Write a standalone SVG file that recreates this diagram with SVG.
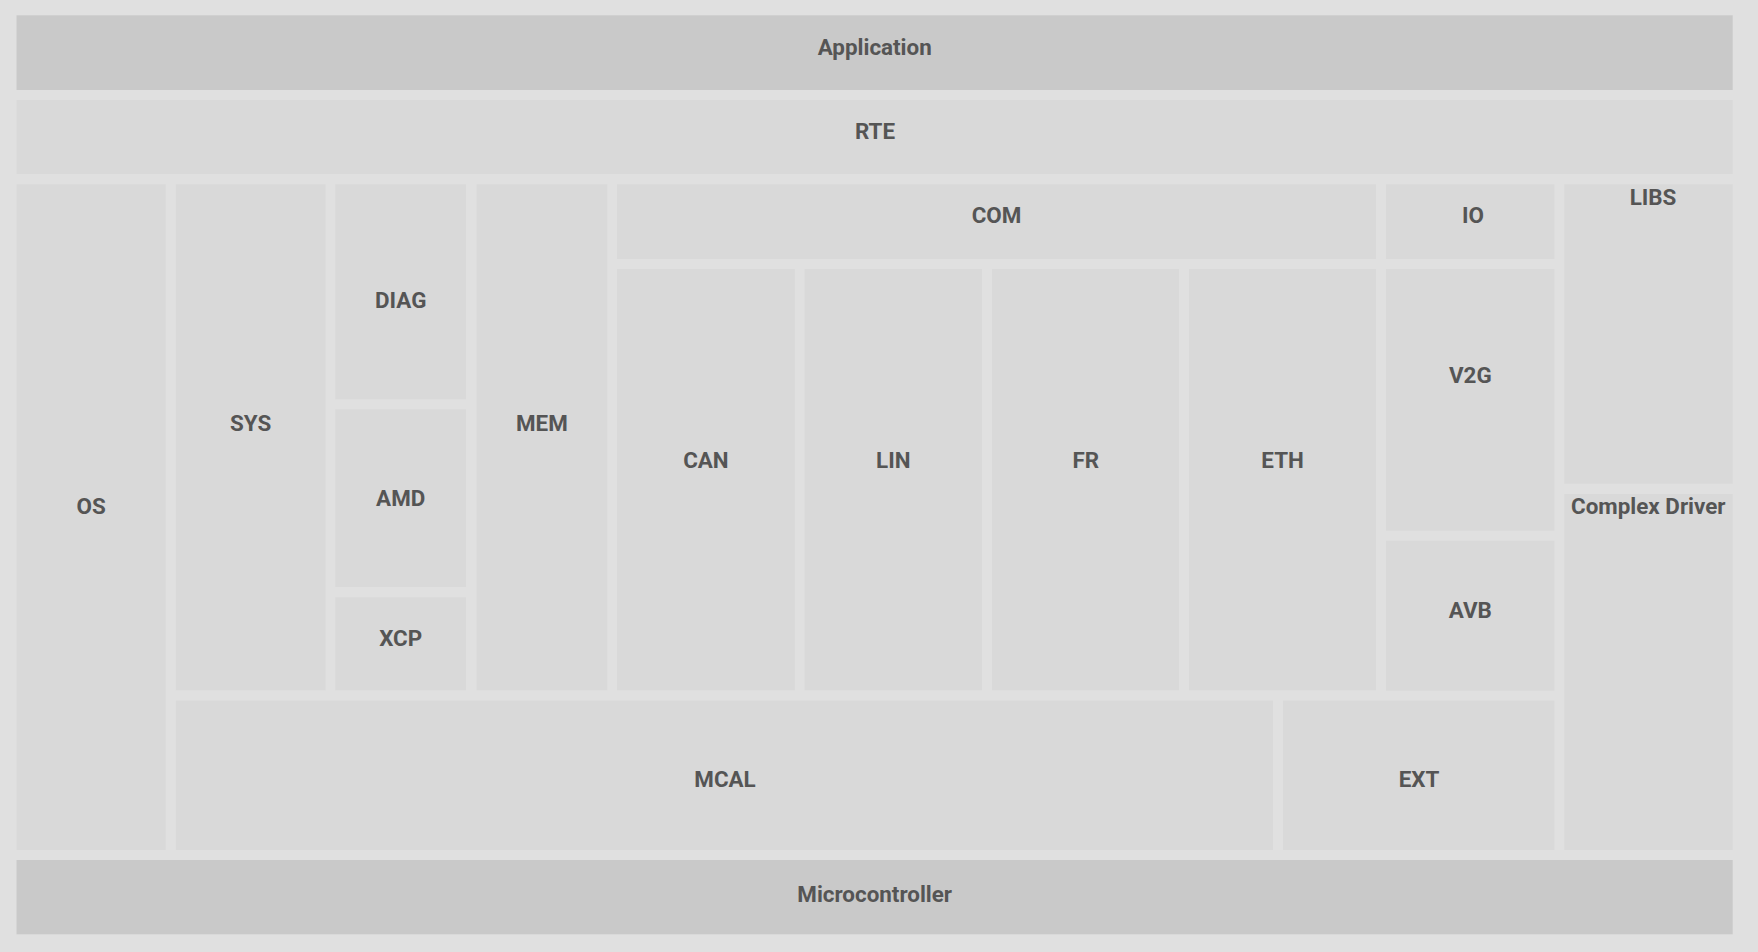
<svg xmlns="http://www.w3.org/2000/svg" width="1758" height="952" viewBox="0 0 1758 952">
  <style>
    .band { fill: #c9c9c9; }
    .box { fill: #d9d9d9; }
    .lbl { font-family: Roboto, "Liberation Sans", sans-serif; font-weight: 700; font-size: 22.4px; fill: #555555; text-anchor: middle; }
  </style>
  <rect x="0" y="0" width="1758" height="952" fill="#e0e0e0"/>
  <g id="connectors"></g>
  <g id="application"><rect class="band" x="16.5" y="15.3" width="1716.2" height="74.7"/><text class="lbl" x="874.7" y="54.6">Application</text></g>
  <g id="rte"><rect class="box" x="16.5" y="100" width="1716.2" height="74"/><text class="lbl" x="875" y="138.7">RTE</text></g>
  <g id="os"><rect class="box" x="16.5" y="184.3" width="149.2" height="665.7"/><text class="lbl" x="91.2" y="514.3">OS</text></g>
  <g id="sys"><rect class="box" x="175.8" y="184.3" width="149.8" height="506"/><text class="lbl" x="250.7" y="430.5">SYS</text></g>
  <g id="diag"><rect class="box" x="335.3" y="184.3" width="130.7" height="215"/><text class="lbl" x="400.7" y="308.3">DIAG</text></g>
  <g id="amd"><rect class="box" x="335.3" y="409.3" width="130.7" height="177.7"/><text class="lbl" x="400.7" y="505.7">AMD</text></g>
  <g id="xcp"><rect class="box" x="335.3" y="597.3" width="130.7" height="93"/><text class="lbl" x="400.7" y="645.7">XCP</text></g>
  <g id="mem"><rect class="box" x="476.5" y="184.3" width="130.8" height="506"/><text class="lbl" x="541.9" y="430.5">MEM</text></g>
  <g id="com"><rect class="box" x="617" y="184.3" width="759" height="74.7"/><text class="lbl" x="996.5" y="223.3">COM</text></g>
  <g id="can"><rect class="box" x="617" y="269" width="177.8" height="421.3"/><text class="lbl" x="705.9" y="467.5">CAN</text></g>
  <g id="lin"><rect class="box" x="804.6" y="269" width="177.4" height="421.3"/><text class="lbl" x="893.3" y="467.5">LIN</text></g>
  <g id="fr"><rect class="box" x="992" y="269" width="187" height="421.3"/><text class="lbl" x="1085.8" y="467.5">FR</text></g>
  <g id="eth"><rect class="box" x="1189" y="269" width="187" height="421.3"/><text class="lbl" x="1282.6" y="467.5">ETH</text></g>
  <g id="io"><rect class="box" x="1386" y="184.3" width="168.5" height="74.7"/><text class="lbl" x="1473" y="223.3">IO</text></g>
  <g id="v2g"><rect class="box" x="1386" y="269" width="168.5" height="261.7"/><text class="lbl" x="1470.3" y="383.3">V2G</text></g>
  <g id="avb"><rect class="box" x="1386" y="540.7" width="168.5" height="150"/><text class="lbl" x="1470.3" y="617.7">AVB</text></g>
  <g id="libs"><rect class="box" x="1564.3" y="184.3" width="168.4" height="299.4"/><text class="lbl" x="1653" y="205">LIBS</text></g>
  <g id="complex-driver"><rect class="box" x="1564.3" y="494" width="168.4" height="356"/><text class="lbl" x="1648.3" y="514.3">Complex Driver</text></g>
  <g id="mcal"><rect class="box" x="175.8" y="700.5" width="1097.2" height="149.5"/><text class="lbl" x="725" y="786.7">MCAL</text></g>
  <g id="ext"><rect class="box" x="1283" y="700.5" width="271.5" height="149.5"/><text class="lbl" x="1419" y="786.7">EXT</text></g>
  <g id="microcontroller"><rect class="band" x="16.5" y="860" width="1716.2" height="74.3"/><text class="lbl" x="874.7" y="902.3">Microcontroller</text></g>
</svg>
